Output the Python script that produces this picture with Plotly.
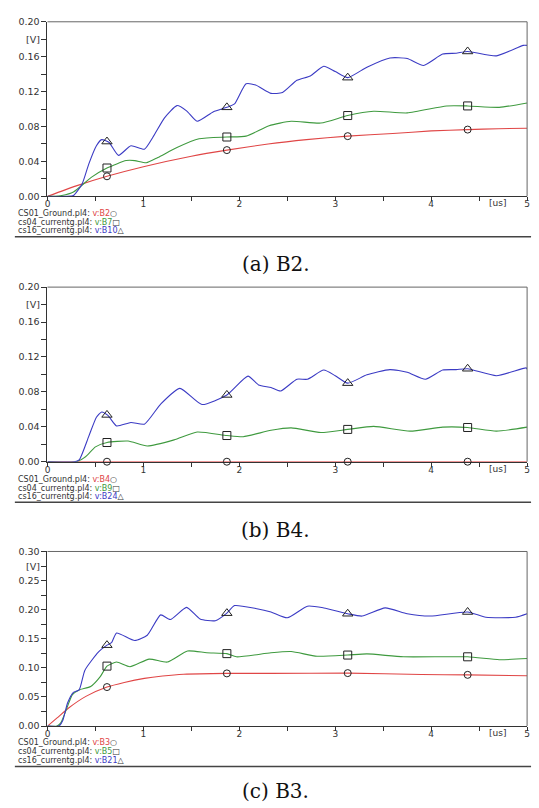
import numpy as np
import plotly.graph_objects as go

W, H = 539, 808

# ---------------- data ----------------
MARKER_X = [0.62, 1.87, 3.13, 4.38]
X_TICKS = [0, 1, 2, 3, 4, 5]

# Panel (a) B2
a_red_x = [0, 0.3, 0.62, 1.0, 1.5, 1.87, 2.3, 2.7, 3.13, 3.6, 4.0, 4.38, 4.7, 5.0]
a_red_y = [0, 0.012, 0.023, 0.034, 0.046, 0.053, 0.060, 0.065, 0.069, 0.072, 0.075, 0.0765, 0.0775, 0.078]
a_grn_x = [0, 0.05, 0.15, 0.27, 0.46, 0.62, 0.82, 0.91, 1.03, 1.15, 1.35, 1.58, 1.87, 2.07, 2.31, 2.54, 2.85, 3.13, 3.4,
           3.75, 4.16, 4.38, 4.71, 5.0]
a_grn_y = [0, 0, 0.001, 0.005, 0.022, 0.0325, 0.041, 0.041, 0.0385, 0.0445, 0.056, 0.066, 0.068, 0.069, 0.081, 0.086,
           0.084, 0.0926, 0.0975, 0.0956, 0.1036, 0.1036, 0.102, 0.107]
a_blu_x = [0, 0.2, 0.27, 0.36, 0.43, 0.51, 0.565, 0.64, 0.74, 0.87, 1.01, 1.1, 1.22, 1.35, 1.45, 1.56, 1.73, 1.87, 1.95,
           2.07, 2.17, 2.33, 2.45, 2.6, 2.74, 2.88, 3.0, 3.13, 3.33, 3.57, 3.75, 3.92, 4.12, 4.26, 4.38, 4.68, 4.96, 5.0]
a_blu_y = [0, 0, 0.001, 0.014, 0.037, 0.058, 0.065, 0.062, 0.047, 0.058, 0.054, 0.068, 0.09, 0.104, 0.098, 0.086, 0.097,
           0.102, 0.106, 0.129, 0.1275, 0.118, 0.119, 0.133, 0.138, 0.149, 0.143, 0.136, 0.148, 0.1586, 0.158, 0.150,
           0.163, 0.164, 0.166, 0.161, 0.173, 0.173]

# Panel (b) B4
b_red_x = [0, 5.0]
b_red_y = [0, 0]
b_grn_x = [0, 0.3, 0.4, 0.5, 0.62, 0.84, 1.04, 1.32, 1.56, 1.87, 2.04, 2.33, 2.54, 2.85, 3.13, 3.4, 3.78, 4.12, 4.38,
           4.68, 5.0]
b_grn_y = [0, 0, 0.006, 0.017, 0.022, 0.0237, 0.018, 0.025, 0.034, 0.030, 0.0286, 0.036, 0.0388, 0.0335, 0.037, 0.0405,
           0.035, 0.0396, 0.0392, 0.035, 0.0396]
b_blu_x = [0, 0.28, 0.33, 0.43, 0.51, 0.565, 0.63, 0.72, 0.87, 1.01, 1.18, 1.38, 1.61, 1.87, 2.09, 2.2, 2.33, 2.43, 2.6,
           2.71, 2.88, 3.0, 3.13, 3.33, 3.57, 3.75, 3.94, 4.12, 4.26, 4.38, 4.68, 4.99, 5.0]
b_blu_y = [0, 0, 0.002, 0.029, 0.051, 0.057, 0.053, 0.041, 0.045, 0.043, 0.066, 0.084, 0.0655, 0.0765, 0.098, 0.088,
           0.085, 0.081, 0.0945, 0.0945, 0.105, 0.0985, 0.090, 0.0995, 0.1055, 0.1025, 0.0945, 0.105, 0.1055, 0.1065,
           0.0985, 0.1075, 0.106]

# Panel (c) B3
c_red_x = [0, 0.1, 0.22, 0.4, 0.62, 0.8, 1.01, 1.2, 1.42, 1.87, 2.33, 3.13, 3.9, 4.38, 5.0]
c_red_y = [0, 0.014, 0.031, 0.051, 0.067, 0.075, 0.082, 0.086, 0.089, 0.0905, 0.0905, 0.091, 0.0885, 0.088, 0.0865]
c_grn_x = [0, 0.1, 0.14, 0.2, 0.26, 0.33, 0.45, 0.55, 0.62, 0.72, 0.86, 1.06, 1.25, 1.46, 1.66, 1.87, 1.97, 2.33, 2.54,
           2.81, 3.13, 3.33, 3.71, 4.38, 4.71, 5.0]
c_grn_y = [0, 0, 0.006, 0.03, 0.054, 0.062, 0.068, 0.085, 0.103, 0.110, 0.102, 0.115, 0.110, 0.129, 0.126, 0.1245, 0.119,
           0.126, 0.128, 0.120, 0.122, 0.124, 0.119, 0.119, 0.114, 0.116]
c_blu_x = [0, 0.12, 0.16, 0.21, 0.27, 0.33, 0.39, 0.53, 0.62, 0.67, 0.72, 0.91, 1.04, 1.18, 1.28, 1.45, 1.59, 1.75, 1.87,
           1.95, 2.17, 2.33, 2.5, 2.71, 2.88, 3.13, 3.28, 3.52, 3.75, 3.99, 4.38, 4.57, 4.88, 5.0]
c_blu_y = [0, 0, 0.01, 0.040, 0.058, 0.062, 0.096, 0.127, 0.139, 0.144, 0.16, 0.147, 0.156, 0.191, 0.183, 0.204, 0.184,
           0.181, 0.194, 0.207, 0.202, 0.196, 0.186, 0.206, 0.203, 0.193, 0.189, 0.203, 0.193, 0.189, 0.196, 0.187,
           0.187, 0.193]

a_legend = ["CS01_Ground.pl4: ", "cs04_currentg.pl4: ", "cs16_currentg.pl4: "]
a_vars = ["v:B2", "v:B7", "v:B10"]
b_vars = ["v:B4", "v:B9", "v:B24"]
c_vars = ["v:B3", "v:B5", "v:B21"]
captions = ["(a) B2.", "(b) B4.", "(c) B3."]

# ---------------- styling / layout ----------------
COLORS = ["#e04646", "#3f9a3f", "#3b3bc4"]
SYMBOLS = ["circle-open", "square-open", "triangle-up-open"]
SIZES = [7, 8, 9]
GLYPHS = ["○", "□", "△"]

panels = [
    dict(series=[(a_red_x, a_red_y), (a_grn_x, a_grn_y), (a_blu_x, a_blu_y)], vars=a_vars,
         top=16, bottom=193, ymax=0.20, ydt=0.04, vlab=0.18, leg=[210, 219, 227.5], sep=234, cap=262),
    dict(series=[(b_red_x, b_red_y), (b_grn_x, b_grn_y), (b_blu_x, b_blu_y)], vars=b_vars,
         top=285, bottom=462, ymax=0.20, ydt=0.04, vlab=0.18, leg=[480, 489, 497.5], sep=503, cap=531),
    dict(series=[(c_red_x, c_red_y), (c_grn_x, c_grn_y), (c_blu_x, c_blu_y)], vars=c_vars,
         top=553, bottom=730, ymax=0.30, ydt=0.05, vlab=0.275, leg=[747, 756, 764.5], sep=771, cap=796),
]

XL, XR = 45, 530
def pxx(x): return x / W
def pyy(y): return 1 - y / H

fig = go.Figure()
annotations = []
shapes = []
layout = {}
tickfont = dict(family="DejaVu Sans", size=9.5, color="#333")
xtickfont = dict(family="DejaVu Sans", size=9, color="#333")

for i, p in enumerate(panels):
    sfx = "" if i == 0 else str(i + 1)
    xa, ya = "x" + sfx, "y" + sfx
    for k, (xs, ys) in enumerate(p["series"]):
        fig.add_trace(go.Scatter(x=xs, y=ys, mode="lines", xaxis=xa, yaxis=ya,
                                 line=dict(color=COLORS[k], width=1.1, shape="spline", smoothing=0.55),
                                 showlegend=False, hoverinfo="skip", cliponaxis=False))
    for k, (xs, ys) in enumerate(p["series"]):
        my = np.interp(MARKER_X, xs, ys)
        fig.add_trace(go.Scatter(x=MARKER_X, y=my, mode="markers", xaxis=xa, yaxis=ya,
                                 marker=dict(symbol=SYMBOLS[k], size=SIZES[k], color="#222",
                                             line=dict(width=1)),
                                 showlegend=False, hoverinfo="skip", cliponaxis=False))
    ymax, ydt = p["ymax"], p["ydt"]
    yt = list(np.round(np.arange(0, ymax + 1e-9, ydt), 3))
    ymin = list(np.round(np.arange(ydt / 2, ymax, ydt), 4))
    layout["xaxis" + sfx] = dict(domain=[pxx(XL), pxx(XR)], range=[0, 5], anchor=ya,
                                 tickvals=X_TICKS, ticks="outside", ticklen=4, tickcolor="#333",
                                 ticklabelstandoff=-5,
                                 minor=dict(tickvals=[0.5, 1.5, 2.5, 3.5, 4.5], ticks="outside", ticklen=4,
                                            tickcolor="#333"),
                                 showgrid=False, zeroline=False, showline=True, linecolor="#333", linewidth=1,
                                 tickfont=xtickfont, layer="below traces", fixedrange=True)
    layout["yaxis" + sfx] = dict(domain=[pyy(p["bottom"]), pyy(p["top"])], range=[0, ymax], anchor=xa,
                                 tickvals=yt, tickformat=".2f", ticks="outside", ticklen=5, tickcolor="#333",
                                 minor=dict(tickvals=ymin, ticks="outside", ticklen=5, tickcolor="#333"),
                                 showgrid=False, zeroline=False, showline=True, linecolor="#333", linewidth=1,
                                 tickfont=tickfont, layer="below traces", fixedrange=True)
    # top and right frame
    shapes.append(dict(type="line", xref=xa + " domain", yref=ya + " domain", x0=0, x1=1, y0=1, y1=1,
                       line=dict(color="#666", width=1)))
    shapes.append(dict(type="line", xref=xa + " domain", yref=ya + " domain", x0=1, x1=1, y0=0, y1=1,
                       line=dict(color="#666", width=1)))
    # [V] label
    annotations.append(dict(text="[V]", xref="paper", yref=ya, x=pxx(39), y=p["vlab"], xanchor="right",
                            yanchor="middle", showarrow=False, font=tickfont))
    # [us] label
    annotations.append(dict(text="[us]", xref=xa, yref="paper", x=4.69, y=pyy(p["bottom"] + 7),
                            xanchor="center", yanchor="middle", showarrow=False, font=xtickfont))
    # legend lines
    for k in range(3):
        txt = (a_legend[k] + '<span style="color:%s">%s</span>%s' % (COLORS[k], p["vars"][k], GLYPHS[k]))
        annotations.append(dict(text=txt, xref="paper", yref="paper", x=pxx(13), y=pyy(p["leg"][k]),
                                xanchor="left", yanchor="middle", showarrow=False,
                                font=dict(family="DejaVu Sans", size=8, color="#333")))
    # separator
    shapes.append(dict(type="line", xref="paper", yref="paper", x0=pxx(12), x1=pxx(534),
                       y0=pyy(p["sep"]), y1=pyy(p["sep"]), line=dict(color="#444", width=1.5)))
    # caption
    annotations.append(dict(text=captions[i], xref="paper", yref="paper", x=pxx(276), y=pyy(p["cap"]),
                            xanchor="center", yanchor="middle", showarrow=False,
                            font=dict(family="DejaVu Serif", size=20, color="#111")))

fig.update_layout(width=W, height=H, margin=dict(l=0, r=0, t=0, b=0), paper_bgcolor="white",
                  plot_bgcolor="white", annotations=annotations, shapes=shapes, **layout)
fig.write_html("out.html", config={"displayModeBar": False, "staticPlot": True},
               post_script="document.body.style.margin='0';document.body.style.overflow='hidden';")
